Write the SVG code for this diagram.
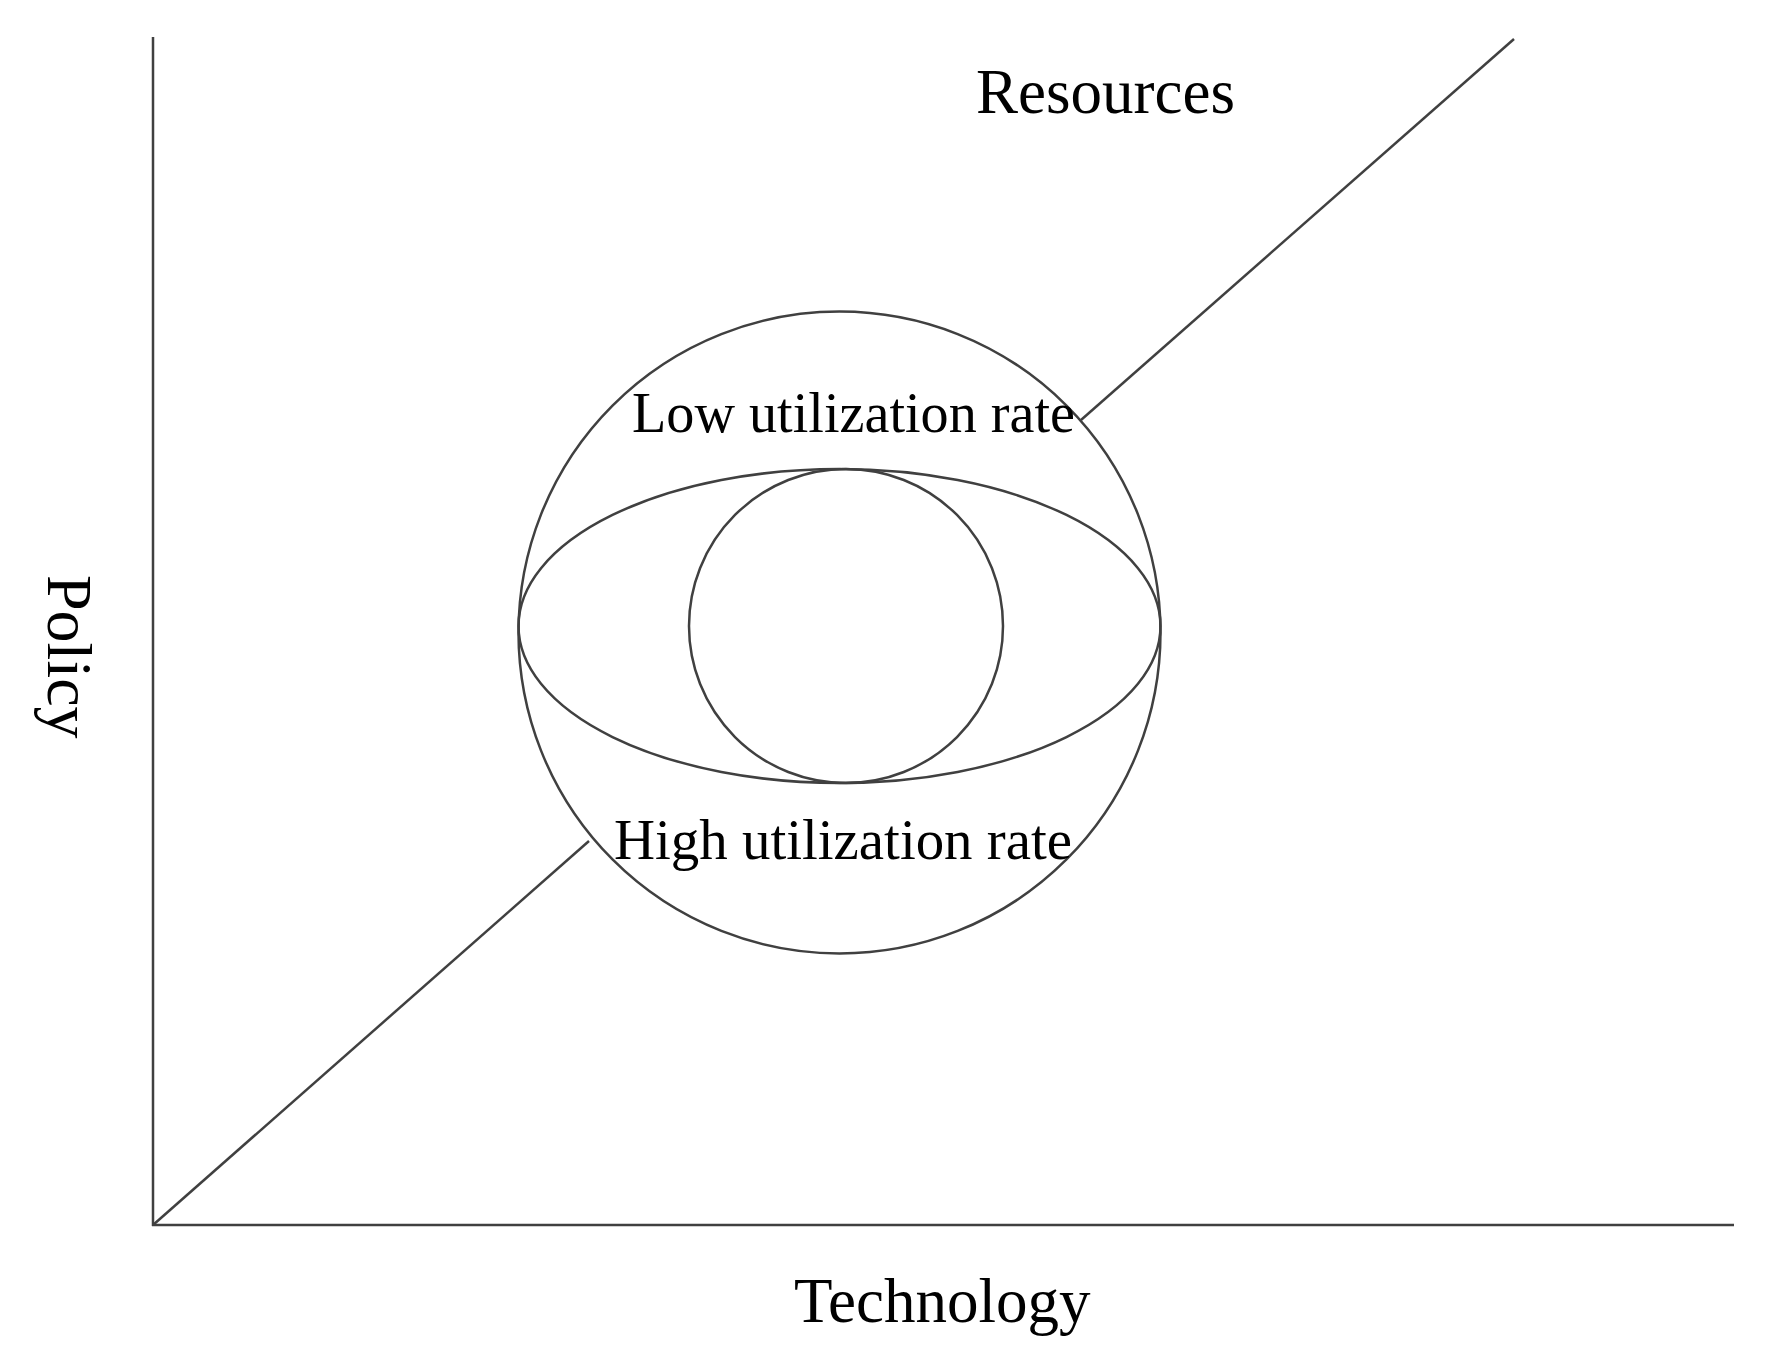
<svg xmlns="http://www.w3.org/2000/svg" width="1779" height="1367" viewBox="0 0 1779 1367">
<style>
.ln{fill:none;stroke:#404040;stroke-width:2.5}
.t{font-family:"Liberation Serif","Times New Roman",serif;fill:#000}
</style>
<rect width="1779" height="1367" fill="#fff"/>
<g id="connectors">
<line class="ln" x1="153" y1="37" x2="153" y2="1226"/>
<line class="ln" x1="152" y1="1225" x2="1734" y2="1225"/>
<line class="ln" x1="153" y1="1225" x2="589" y2="841"/>
<line class="ln" x1="1081" y1="420" x2="1514" y2="39"/>
</g>
<g id="outer-circle">
<circle class="ln" cx="839.5" cy="632.5" r="321"/>
</g>
<g id="ellipse">
<ellipse class="ln" cx="839.5" cy="626" rx="321" ry="157"/>
</g>
<g id="inner-circle">
<circle class="ln" cx="846" cy="626" r="157"/>
</g>
<g id="labels">
<text class="t" x="976" y="113" font-size="63">Resources</text>
<text class="t" x="632" y="432" font-size="56" textLength="443" lengthAdjust="spacingAndGlyphs">Low utilization rate</text>
<text class="t" x="614" y="859" font-size="56" textLength="458" lengthAdjust="spacingAndGlyphs">High utilization rate</text>
<text class="t" x="794" y="1322" font-size="63">Technology</text>
<text class="t" font-size="64" transform="translate(48,575) rotate(90)">Policy</text>
</g>
</svg>
